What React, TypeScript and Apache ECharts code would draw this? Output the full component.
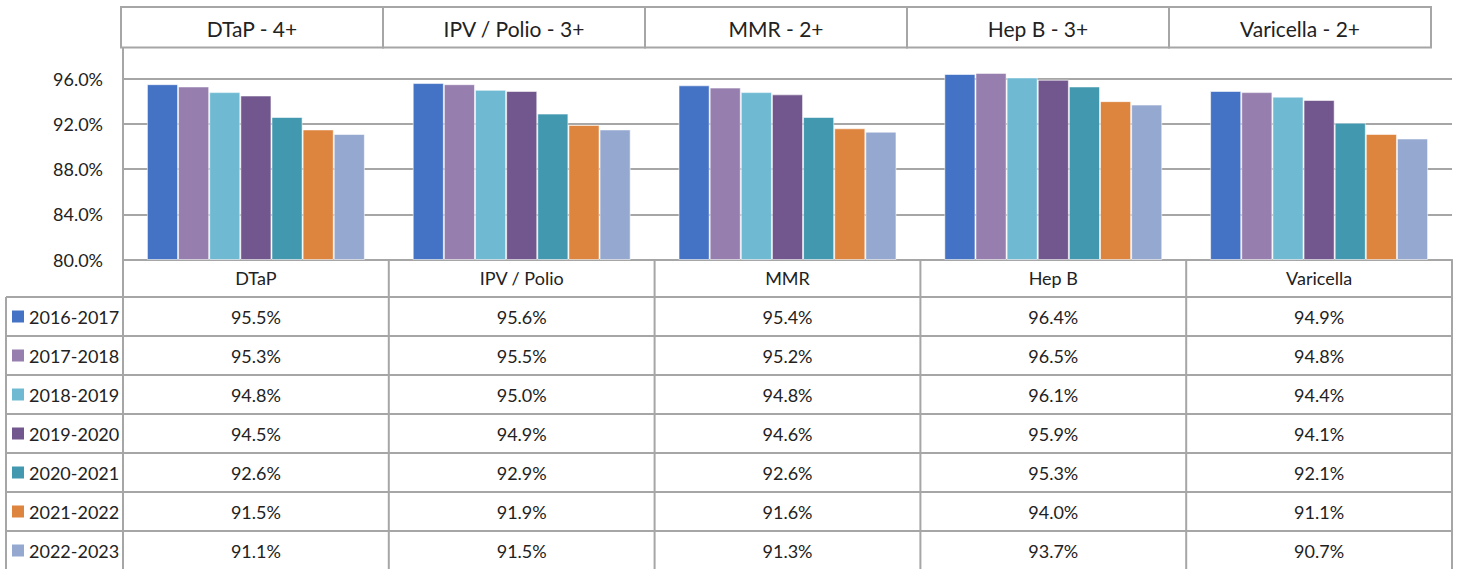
import React, { useEffect, useRef } from 'react';
import * as echarts from 'echarts';

const categories = ['DTaP', 'IPV / Polio', 'MMR', 'Hep B', 'Varicella'];
const headerTitles = ['DTaP - 4+', 'IPV / Polio - 3+', 'MMR - 2+', 'Hep B - 3+', 'Varicella - 2+'];
const seasons = ['2016-2017', '2017-2018', '2018-2019', '2019-2020', '2020-2021', '2021-2022', '2022-2023'];
const colors = ['#4472C4', '#967FAE', '#6FBAD2', '#71578D', '#4198AF', '#DD843F', '#95A9D0'];

const v2016 = [95.5, 95.6, 95.4, 96.4, 94.9];
const v2017 = [95.3, 95.5, 95.2, 96.5, 94.8];
const v2018 = [94.8, 95.0, 94.8, 96.1, 94.4];
const v2019 = [94.5, 94.9, 94.6, 95.9, 94.1];
const v2020 = [92.6, 92.9, 92.6, 95.3, 92.1];
const v2021 = [91.5, 91.9, 91.6, 94.0, 91.1];
const v2022 = [91.1, 91.5, 91.3, 93.7, 90.7];
const seriesValues = [v2016, v2017, v2018, v2019, v2020, v2021, v2022];

const Y_MIN = 80;
const Y_MAX = 98.7;
const Y_INTERVAL = 4;

// layout
const W = 1458;
const H = 569;
const GRID_LEFT = 123;
const GRID_RIGHT = 1452;
const GRID_TOP = 48;
const GRID_BOTTOM = 259.5;
const HDR_LEFT = 121;
const HDR_W = 262;
const HDR_TOP = 7;
const HDR_BOTTOM = 47.5;
const CAT_ROW_BOTTOM = 297;
const ROW_H = 39;
const TABLE_LEFT = 6;
const LINE = '#a6a6a6';
const TEXT = '#222222';
const FONT = 'Lato, "Open Sans", sans-serif';

export default function App() {
  const ref = useRef<HTMLDivElement>(null);
  useEffect(() => {
    const chart = echarts.init(ref.current!, null, { renderer: 'svg' });
    const colW = (GRID_RIGHT - GRID_LEFT) / categories.length;
    const g: any[] = [];
    const ls = { stroke: LINE, lineWidth: 2 };
    const txt = (x: number, y: number, text: string, size: number, align = 'center') => ({
      type: 'text',
      x,
      y,
      z: 10,
      style: {
        text,
        font: `${size}px ${FONT}`,
        fill: TEXT,
        align,
        verticalAlign: 'middle',
        textAlign: align,
        textVerticalAlign: 'middle',
      },
    });
    // header boxes
    headerTitles.forEach((t, i) => {
      g.push({
        type: 'rect',
        shape: { x: HDR_LEFT + i * HDR_W, y: HDR_TOP, width: HDR_W, height: HDR_BOTTOM - HDR_TOP },
        style: { fill: '#fff', ...ls },
      });
      g.push(txt(HDR_LEFT + i * HDR_W + HDR_W / 2, (HDR_TOP + HDR_BOTTOM) / 2 + 1, t, 21));
    });
    // table
    const rowsEnd = CAT_ROW_BOTTOM + seasons.length * ROW_H;
    for (let i = 0; i <= categories.length; i++) {
      const x = GRID_LEFT + i * colW;
      g.push({ type: 'line', shape: { x1: x, y1: GRID_BOTTOM, x2: x, y2: rowsEnd }, style: ls, z: 5 });
    }
    g.push({ type: 'line', shape: { x1: TABLE_LEFT, y1: CAT_ROW_BOTTOM, x2: TABLE_LEFT, y2: rowsEnd }, style: ls, z: 5 });
    for (let r = 0; r <= seasons.length; r++) {
      const y = CAT_ROW_BOTTOM + r * ROW_H;
      g.push({ type: 'line', shape: { x1: TABLE_LEFT, y1: y, x2: GRID_RIGHT, y2: y }, style: ls, z: 5 });
    }
    categories.forEach((c, i) => {
      g.push(txt(GRID_LEFT + i * colW + colW / 2, (GRID_BOTTOM + CAT_ROW_BOTTOM) / 2, c, 18));
    });
    seasons.forEach((s, r) => {
      const cy = CAT_ROW_BOTTOM + r * ROW_H + ROW_H / 2;
      g.push({
        type: 'rect',
        shape: { x: 12, y: cy - 6, width: 12, height: 12 },
        style: { fill: colors[r] },
        z: 10,
      });
      g.push(txt(29, cy, s, 18, 'left'));
      seriesValues[r].forEach((v, i) => {
        g.push(txt(GRID_LEFT + i * colW + colW / 2, cy, v.toFixed(1) + '%', 18));
      });
    });

    chart.setOption({
      animation: false,
      grid: {
        left: GRID_LEFT,
        right: W - GRID_RIGHT,
        top: GRID_TOP,
        bottom: H - GRID_BOTTOM,
        containLabel: false,
      },
      xAxis: {
        type: 'category',
        data: categories,
        axisLine: { show: true, lineStyle: { color: LINE, width: 2 } },
        axisTick: { show: false },
        axisLabel: { show: false },
      },
      yAxis: {
        type: 'value',
        min: Y_MIN,
        max: Y_MAX,
        interval: Y_INTERVAL,
        axisLine: { show: true, lineStyle: { color: LINE, width: 2 } },
        axisTick: { show: false },
        splitLine: { show: true, showMaxLine: false, lineStyle: { color: LINE, width: 2 } },
        axisLabel: {
          margin: 20,
          showMaxLabel: false,
          formatter: (v: number) => (v > 98 ? '' : v.toFixed(1) + '%'),
          color: TEXT,
          fontSize: 18,
          fontFamily: FONT,
        },
      },
      series: seasons.map((s, r) => ({
        name: s,
        type: 'bar',
        data: seriesValues[r],
        barGap: '0%',
        barCategoryGap: '18%',
        itemStyle: { color: colors[r], borderColor: 'rgba(255,255,255,0.55)', borderWidth: 1 },
      })),
      graphic: g,
    });
    return () => chart.dispose();
  }, []);
  return (
    <div
      ref={ref}
      style={{ position: 'fixed', left: 0, top: 0, width: W, height: H, background: '#fff' }}
    />
  );
}
